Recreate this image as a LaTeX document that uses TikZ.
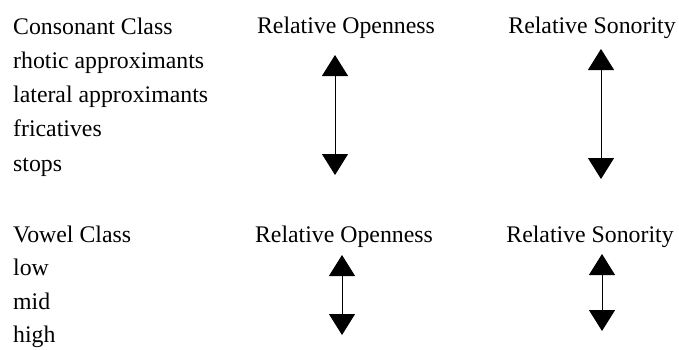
\documentclass[tikz,border=0pt]{standalone}
\usepackage{fontspec}
\setmainfont{Liberation Serif}
\usetikzlibrary{arrows.meta}
\begin{document}
\begin{tikzpicture}[x=1pt,y=-1pt,
  lbl/.style={anchor=base west,inner sep=0pt,font=\fontsize{23.8}{28}\selectfont},
  hdr/.style={anchor=base,inner sep=0pt,font=\fontsize{23.8}{28}\selectfont},
  dbl/.style={line width=1pt,{Triangle[width=26pt,length=21pt]}-{Triangle[width=26pt,length=21pt]}}]
\useasboundingbox (0,0) rectangle (679,349);
% consonant section
\node[lbl] (cc) at (13,34) {Consonant Class};
\node[lbl] (rh) at (13,68) {rhotic approximants};
\node[lbl] (la) at (13,102) {lateral approximants};
\node[lbl] (fr) at (13,136) {fricatives};
\node[lbl] (st) at (13,171) {stops};
\node[hdr] (ro1) at (346,33) {Relative Openness};
\node[hdr] (rs1) at (592,33) {Relative Sonority};
\coordinate (a1t) at (335,55);
\coordinate (a1b) at (335,175);
\coordinate (a2t) at (601,49);
\coordinate (a2b) at (601,179);
\draw[dbl] (a1t) -- (a1b);
\draw[dbl] (a2t) -- (a2b);
% vowel section
\node[lbl] (vc) at (13,242) {Vowel Class};
\node[lbl] (lo) at (13,275) {low};
\node[lbl] (mi) at (13,309) {mid};
\node[lbl] (hi) at (13,342) {high};
\node[hdr] (ro2) at (344,242) {Relative Openness};
\node[hdr] (rs2) at (590,242) {Relative Sonority};
\coordinate (b1t) at (342,255);
\coordinate (b1b) at (342,335);
\coordinate (b2t) at (602,254);
\coordinate (b2b) at (602,331);
\draw[dbl] (b1t) -- (b1b);
\draw[dbl] (b2t) -- (b2b);
\end{tikzpicture}
\end{document}
